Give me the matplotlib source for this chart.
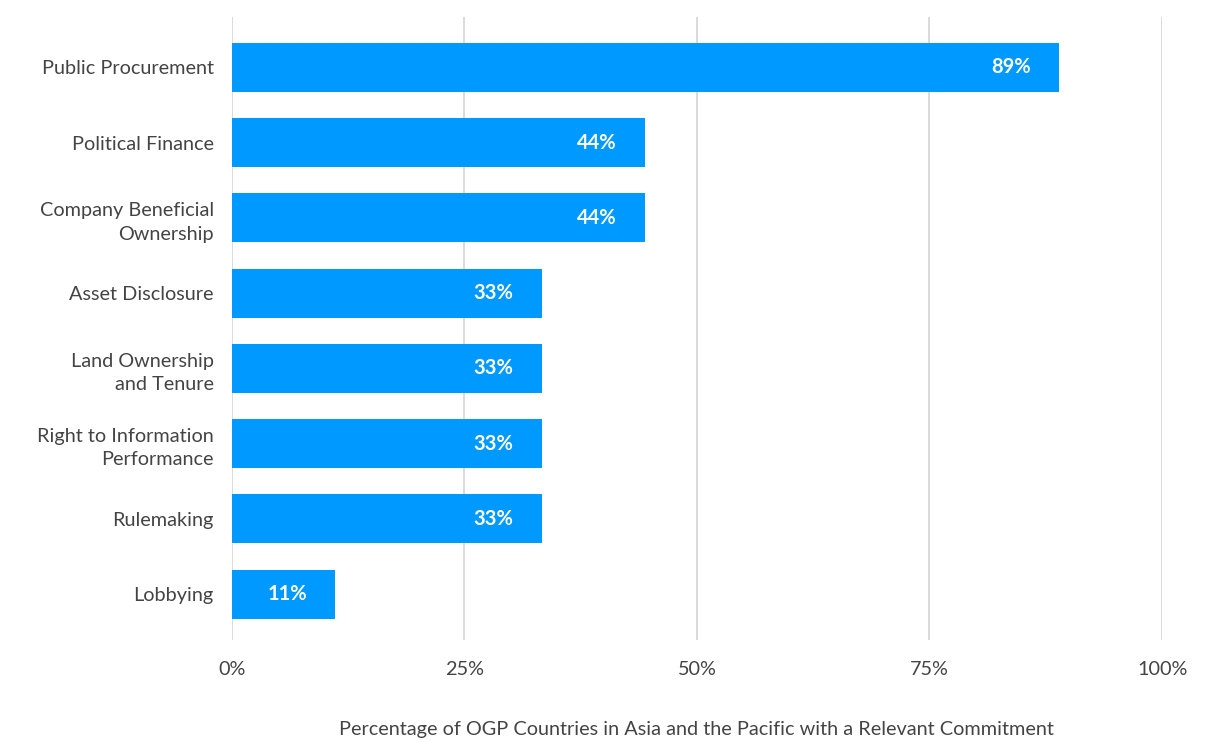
import matplotlib.pyplot as plt

plt.rcParams["font.family"] = ["Lato", "DejaVu Sans"]

# data
categories = ["Public Procurement", "Political Finance", "Company Beneficial\nOwnership",
              "Asset Disclosure", "Land Ownership\nand Tenure", "Right to Information\nPerformance",
              "Rulemaking", "Lobbying"]
values = [88.9, 44.4, 44.4, 33.3, 33.3, 33.3, 33.3, 11.1]
value_labels = ["89%", "44%", "44%", "33%", "33%", "33%", "33%", "11%"]
xticks = [0, 25, 50, 75, 100]
xtick_labels = ["0%", "25%", "50%", "75%", "100%"]

fig = plt.figure(figsize=(12.2, 7.42), dpi=100)
ax = fig.add_axes([0.190, 0.1375, 0.7625, 0.8395])

ypos = list(range(len(categories)))
ax.barh(ypos, values, height=0.65, color="#0099FF", zorder=2)

for y, v, lab in zip(ypos, values, value_labels):
    ax.text(v - 3.0, y, lab, ha="right", va="center", color="white",
            fontsize=14.5, fontweight="bold", zorder=3)

ax.set_xlim(0, 100)
ax.set_ylim(7.61, -0.67)
ax.set_yticks(ypos)
ax.set_yticklabels(categories, fontsize=14.3, color="#444444", linespacing=1.45)
ax.set_xticks(xticks)
ax.set_xticklabels(xtick_labels, fontsize=14.3, color="#444444")
ax.tick_params(length=0)
ax.tick_params(axis="y", pad=13)
ax.tick_params(axis="x", pad=15)

ax.grid(axis="x", color="#d4d4d4", linewidth=1.2, zorder=0)
for s in ax.spines.values():
    s.set_visible(False)

fig.text(0.571, 0.017, "Percentage of OGP Countries in Asia and the Pacific with a Relevant Commitment",
         ha="center", va="center", fontsize=14.3, color="#444444")

plt.savefig("out.png", dpi=100)
